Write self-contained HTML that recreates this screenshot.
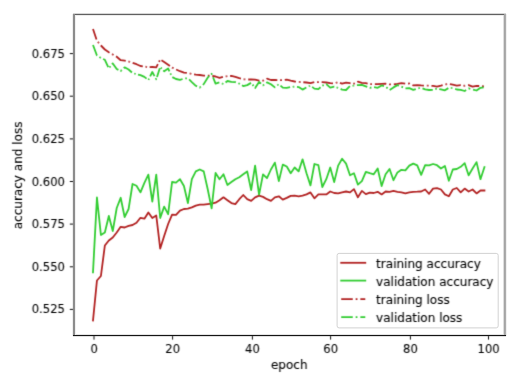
<!DOCTYPE html>
<html><head><meta charset="utf-8"><title>accuracy and loss</title>
<style>html,body{margin:0;padding:0;background:#fff;width:514px;height:376px;overflow:hidden} svg{display:block}</style>
</head><body>
<svg width="514" height="376" viewBox="0 0 514 376">
<defs>
<filter id="fl" x="0" y="0" width="514" height="376" filterUnits="userSpaceOnUse" color-interpolation-filters="sRGB"><feConvolveMatrix order="3" kernelMatrix="0.01440 0.09120 0.01440 0.09120 0.57760 0.09120 0.01440 0.09120 0.01440" divisor="1" edgeMode="none" preserveAlpha="false"/></filter>
<filter id="ft" x="0" y="0" width="514" height="376" filterUnits="userSpaceOnUse" color-interpolation-filters="sRGB"><feConvolveMatrix order="3" kernelMatrix="0.01800 0.06400 0.01800 0.14400 0.51200 0.14400 0.01800 0.06400 0.01800" divisor="1" edgeMode="none" preserveAlpha="false"/></filter>
</defs>
<rect width="514" height="376" fill="#fff"/>
<g fill="none" stroke-width="1.8" stroke-linejoin="round" filter="url(#fl)">
<polyline points="93.00,320.50 96.95,280.50 100.91,276.00 104.86,245.50 108.82,240.50 112.77,237.50 116.72,232.50 120.68,226.80 124.63,227.50 128.59,225.80 132.54,225.00 136.49,222.80 140.45,217.80 144.40,218.70 148.36,212.40 152.31,218.00 156.26,215.50 160.22,248.60 164.17,236.00 168.13,224.00 172.08,214.60 176.03,214.80 179.99,210.60 183.94,209.00 187.90,208.60 191.85,207.40 195.80,205.60 199.76,204.60 203.71,204.60 207.67,204.10 211.62,203.60 215.57,202.70 219.53,200.20 223.48,197.30 227.44,200.20 231.39,203.10 235.34,204.10 239.30,199.20 243.25,195.00 247.21,199.20 251.16,200.80 255.11,197.30 259.07,195.70 263.02,196.90 266.98,199.20 270.93,200.80 274.88,197.30 278.84,196.30 282.79,199.60 286.75,197.90 290.70,195.90 294.65,195.70 298.61,196.30 302.56,195.70 306.52,194.40 310.47,192.40 314.42,198.30 318.38,194.40 322.33,194.40 326.29,194.40 330.24,191.50 334.19,193.00 338.15,193.40 342.10,192.40 346.06,191.50 350.01,192.40 353.96,189.10 357.92,197.30 361.87,190.90 365.83,194.10 369.78,192.60 373.73,193.00 377.69,191.80 381.64,194.40 385.60,191.50 389.55,191.80 393.50,190.90 397.46,191.80 401.41,192.40 405.37,193.40 409.32,192.40 413.27,191.80 417.23,191.70 421.18,191.50 425.14,189.50 429.09,193.80 433.04,188.60 437.00,188.10 440.95,189.50 444.91,194.40 448.86,196.30 452.81,189.50 456.77,188.00 460.72,192.40 464.68,188.60 468.63,191.50 472.58,189.50 476.54,193.40 480.49,190.50 484.45,190.50" stroke="#b22222" stroke-linecap="square"/>
<polyline points="93.00,272.30 96.95,197.50 100.91,235.00 104.86,232.50 108.82,216.00 112.77,231.00 116.72,208.00 120.68,197.80 124.63,217.00 128.59,209.00 132.54,184.00 136.49,185.80 140.45,192.40 144.40,182.90 148.36,174.60 152.31,201.50 156.26,174.60 160.22,218.00 164.17,206.60 168.13,214.20 172.08,182.00 176.03,182.70 179.99,179.20 183.94,186.00 187.90,203.00 191.85,179.20 195.80,171.40 199.76,169.50 203.71,171.40 207.67,189.00 211.62,208.40 215.57,173.00 219.53,179.20 223.48,174.30 227.44,185.00 231.39,182.10 235.34,179.20 239.30,177.20 243.25,174.30 247.21,171.40 251.16,190.00 255.11,165.60 259.07,194.70 263.02,174.30 266.98,178.20 270.93,169.50 274.88,162.60 278.84,181.10 282.79,164.60 286.75,166.50 290.70,173.30 294.65,167.50 298.61,171.40 302.56,159.30 306.52,173.30 310.47,185.40 314.42,164.00 318.38,165.20 322.33,187.00 326.29,179.20 330.24,167.50 334.19,182.10 338.15,165.60 342.10,158.80 346.06,163.60 350.01,175.30 353.96,173.30 357.92,184.60 361.87,181.10 365.83,171.80 369.78,173.20 373.73,174.30 377.69,168.50 381.64,186.00 385.60,174.30 389.55,169.00 393.50,180.20 397.46,172.40 401.41,169.80 405.37,170.40 409.32,165.60 413.27,163.60 417.23,165.40 421.18,174.90 425.14,165.20 429.09,165.40 433.04,164.00 437.00,165.20 440.95,168.50 444.91,166.00 448.86,180.80 452.81,169.50 456.77,169.00 460.72,166.80 464.68,163.20 468.63,175.30 472.58,168.50 476.54,162.10 480.49,179.20 484.45,167.10" stroke="#32cd32" stroke-linecap="square"/>
<polyline points="93.00,29.00 96.95,40.80 98.40,42.52" stroke="#b22222" stroke-dasharray="11.060 2.765 1.732 2.765" stroke-dashoffset="0.000" stroke-linecap="butt"/>
<polyline points="98.40,42.52 100.91,45.50 104.86,49.50 108.82,52.30 112.75,54.59" stroke="#b22222" stroke-dasharray="11.419 2.855 1.788 2.855" stroke-dashoffset="15.168" stroke-linecap="butt"/>
<polyline points="112.75,54.59 112.77,54.60 116.72,56.80 120.68,60.20 124.63,60.60 128.59,61.50 129.30,61.73" stroke="#b22222" stroke-dasharray="11.194 2.798 1.753 2.798" stroke-dashoffset="14.869" stroke-linecap="butt"/>
<polyline points="129.30,61.73 132.54,62.80 136.49,64.20 140.45,66.00 144.40,66.50 146.30,66.88" stroke="#b22222" stroke-dasharray="10.788 2.697 1.689 2.697" stroke-dashoffset="14.330" stroke-linecap="butt"/>
<polyline points="146.30,66.88 148.36,67.30 152.31,67.00 156.26,67.40 160.22,59.50 164.17,62.00 168.13,64.80 172.08,67.60 172.75,67.91" stroke="#b22222" stroke-dasharray="10.255 2.564 1.606 2.564" stroke-dashoffset="13.621" stroke-linecap="butt"/>
<polyline points="172.75,67.91 176.03,69.40 179.99,71.20 183.94,72.60 187.90,73.00 190.50,73.66" stroke="#b22222" stroke-dasharray="11.353 2.838 1.778 2.838" stroke-dashoffset="15.080" stroke-linecap="butt"/>
<polyline points="190.50,73.66 191.85,74.00 195.80,74.60 199.76,75.00 203.71,75.60 207.67,75.70 211.62,75.70 215.57,76.50 219.53,77.90 223.48,76.70 226.50,76.32" stroke="#b22222" stroke-dasharray="11.070 2.768 1.733 2.768" stroke-dashoffset="14.704" stroke-linecap="butt"/>
<polyline points="226.50,76.32 227.44,76.20 231.39,75.90 235.34,76.90 239.30,78.20 243.25,79.20 244.50,79.29" stroke="#b22222" stroke-dasharray="11.155 2.789 1.747 2.789" stroke-dashoffset="14.817" stroke-linecap="butt"/>
<polyline points="244.50,79.29 247.21,79.50 251.16,79.50 255.11,79.70 259.07,80.70 263.02,80.70 263.20,80.61" stroke="#b22222" stroke-dasharray="11.384 2.846 1.782 2.846" stroke-dashoffset="15.122" stroke-linecap="butt"/>
<polyline points="263.20,80.61 266.98,78.70 270.93,80.00 274.88,80.00 278.84,80.20 281.00,80.20" stroke="#b22222" stroke-dasharray="11.149 2.787 1.746 2.787" stroke-dashoffset="14.809" stroke-linecap="butt"/>
<polyline points="281.00,80.20 282.79,80.20 286.75,79.70 290.70,80.70 294.65,81.50 298.61,81.90 299.70,81.98" stroke="#b22222" stroke-dasharray="11.445 2.861 1.792 2.861" stroke-dashoffset="15.202" stroke-linecap="butt"/>
<polyline points="299.70,81.98 302.56,82.20 306.52,82.50 310.47,83.20 314.42,82.20 317.90,82.20" stroke="#b22222" stroke-dasharray="11.111 2.778 1.740 2.778" stroke-dashoffset="14.758" stroke-linecap="butt"/>
<polyline points="317.90,82.20 318.38,82.20 322.33,82.20 326.29,82.50 330.24,83.20 334.19,83.50 336.60,82.71" stroke="#b22222" stroke-dasharray="11.416 2.854 1.787 2.854" stroke-dashoffset="15.163" stroke-linecap="butt"/>
<polyline points="336.60,82.71 338.15,82.20 342.10,83.70 346.06,82.70 350.01,83.20 353.96,83.70 354.10,83.63" stroke="#b22222" stroke-dasharray="10.902 2.726 1.707 2.726" stroke-dashoffset="14.481" stroke-linecap="butt"/>
<polyline points="354.10,83.63 357.92,81.70 361.87,82.80 365.83,83.20 369.78,84.10 371.10,84.10" stroke="#b22222" stroke-dasharray="10.704 2.676 1.676 2.676" stroke-dashoffset="14.218" stroke-linecap="butt"/>
<polyline points="371.10,84.10 373.73,84.10 377.69,84.10 381.64,83.90 385.60,83.70 389.55,84.40 390.00,84.40" stroke="#b22222" stroke-dasharray="11.452 2.863 1.793 2.863" stroke-dashoffset="15.212" stroke-linecap="butt"/>
<polyline points="390.00,84.40 393.50,84.40 397.46,83.90 401.41,83.20 405.37,83.70 409.00,83.52" stroke="#b22222" stroke-dasharray="11.547 2.887 1.808 2.887" stroke-dashoffset="15.338" stroke-linecap="butt"/>
<polyline points="409.00,83.52 409.32,83.50 413.27,85.40 417.23,85.10 421.18,85.40 425.14,85.60 427.70,85.60" stroke="#b22222" stroke-dasharray="11.567 2.892 1.811 2.892" stroke-dashoffset="15.364" stroke-linecap="butt"/>
<polyline points="427.70,85.60 429.09,85.60 433.04,85.90 437.00,86.60 440.95,85.60 444.91,84.40 446.30,84.26" stroke="#b22222" stroke-dasharray="11.459 2.865 1.794 2.865" stroke-dashoffset="15.221" stroke-linecap="butt"/>
<polyline points="446.30,84.26 448.86,84.00 452.81,84.70 456.77,85.60 460.72,85.10 464.30,85.73" stroke="#b22222" stroke-dasharray="11.024 2.756 1.726 2.756" stroke-dashoffset="14.644" stroke-linecap="butt"/>
<polyline points="464.30,85.73 464.68,85.80 468.63,85.10 472.58,86.60 476.54,85.80 480.49,86.10 484.45,86.40" stroke="#b22222" stroke-dasharray="11.560 2.890 1.810 2.890" stroke-dashoffset="15.355" stroke-linecap="butt"/>
<polyline points="93.00,45.00 96.95,55.50 100.20,57.55" stroke="#32cd32" stroke-dasharray="11.338 2.835 1.775 2.835" stroke-dashoffset="0.000" stroke-linecap="butt"/>
<polyline points="100.20,57.55 100.91,58.00 104.86,59.80 108.82,68.30 112.77,63.40 116.72,69.00 120.68,71.00 121.20,70.51" stroke="#32cd32" stroke-dasharray="9.916 2.479 1.553 2.479" stroke-dashoffset="13.172" stroke-linecap="butt"/>
<polyline points="121.20,70.51 124.63,67.30 128.59,69.50 132.54,73.00 135.00,73.75" stroke="#32cd32" stroke-dasharray="10.308 2.577 1.614 2.577" stroke-dashoffset="13.692" stroke-linecap="butt"/>
<polyline points="135.00,73.75 136.49,74.20 140.45,75.20 144.40,76.90 148.36,80.00 152.31,72.00 156.00,78.81" stroke="#32cd32" stroke-dasharray="9.550 2.387 1.495 2.387" stroke-dashoffset="12.685" stroke-linecap="butt"/>
<polyline points="156.00,78.81 156.26,79.30 160.22,66.90 164.17,71.20 168.13,68.50 170.70,74.03" stroke="#32cd32" stroke-dasharray="9.146 2.286 1.432 2.286" stroke-dashoffset="12.148" stroke-linecap="butt"/>
<polyline points="170.70,74.03 172.08,77.00 176.03,79.00 179.99,79.80 183.94,78.60 186.10,78.38" stroke="#32cd32" stroke-dasharray="10.889 2.722 1.705 2.722" stroke-dashoffset="14.463" stroke-linecap="butt"/>
<polyline points="186.10,78.38 187.90,78.20 191.85,82.10 195.80,85.80 199.76,87.60 200.20,87.21" stroke="#32cd32" stroke-dasharray="10.690 2.673 1.674 2.673" stroke-dashoffset="14.199" stroke-linecap="butt"/>
<polyline points="200.20,87.21 203.71,84.10 207.67,77.70 211.62,73.80 215.57,83.60 219.53,82.40 222.60,83.72" stroke="#32cd32" stroke-dasharray="10.809 2.702 1.692 2.702" stroke-dashoffset="14.357" stroke-linecap="butt"/>
<polyline points="222.60,83.72 223.48,84.10 227.44,81.00 231.39,81.90 235.34,82.10 239.20,83.56" stroke="#32cd32" stroke-dasharray="10.940 2.735 1.713 2.735" stroke-dashoffset="14.531" stroke-linecap="butt"/>
<polyline points="239.20,83.56 239.30,83.60 243.25,86.10 247.21,85.10 251.16,82.80 255.11,88.00 259.07,81.90 263.02,85.40 263.50,85.04" stroke="#32cd32" stroke-dasharray="9.996 2.499 1.565 2.499" stroke-dashoffset="13.278" stroke-linecap="butt"/>
<polyline points="263.50,85.04 266.98,82.40 270.93,84.30 274.88,87.40 277.90,84.88" stroke="#32cd32" stroke-dasharray="10.686 2.672 1.673 2.672" stroke-dashoffset="14.195" stroke-linecap="butt"/>
<polyline points="277.90,84.88 278.84,84.10 282.79,87.60 286.75,87.80 290.70,87.10 293.50,86.75" stroke="#32cd32" stroke-dasharray="10.443 2.611 1.635 2.611" stroke-dashoffset="13.871" stroke-linecap="butt"/>
<polyline points="293.50,86.75 294.65,86.60 298.61,87.10 302.56,89.60 306.52,87.40 309.50,86.04" stroke="#32cd32" stroke-dasharray="10.643 2.661 1.666 2.661" stroke-dashoffset="14.136" stroke-linecap="butt"/>
<polyline points="309.50,86.04 310.47,85.60 314.42,88.60 318.38,89.10 322.33,85.60 326.29,84.10 330.24,87.60 334.19,86.60 337.30,87.54" stroke="#32cd32" stroke-dasharray="9.697 2.424 1.518 2.424" stroke-dashoffset="12.881" stroke-linecap="butt"/>
<polyline points="337.30,87.54 338.15,87.80 342.10,89.60 346.06,90.00 350.01,86.10 353.40,85.67" stroke="#32cd32" stroke-dasharray="10.972 2.743 1.718 2.743" stroke-dashoffset="14.574" stroke-linecap="butt"/>
<polyline points="353.40,85.67 353.96,85.60 357.92,85.10 361.87,84.80 365.83,86.30 369.78,87.80 373.73,87.10 377.69,87.80 381.64,85.40 385.60,86.60 389.55,90.00 393.50,87.40 397.46,85.10 401.41,86.60 405.37,88.40 409.32,88.20 413.27,89.80 417.23,88.60 419.20,88.20" stroke="#32cd32" stroke-dasharray="10.749 2.687 1.683 2.687" stroke-dashoffset="14.278" stroke-linecap="butt"/>
<polyline points="419.20,88.20 421.18,87.80 425.14,89.40 429.09,90.00 433.04,89.80 436.10,88.87" stroke="#32cd32" stroke-dasharray="10.527 2.632 1.648 2.632" stroke-dashoffset="13.984" stroke-linecap="butt"/>
<polyline points="436.10,88.87 437.00,88.60 440.95,89.40 444.91,90.30 448.86,87.80 451.50,88.00" stroke="#32cd32" stroke-dasharray="9.872 2.468 1.546 2.468" stroke-dashoffset="13.113" stroke-linecap="butt"/>
<polyline points="451.50,88.00 452.81,88.10 456.77,89.50 460.72,89.80 464.68,91.00 468.63,88.40 472.58,89.40 476.54,90.50 480.49,87.80 484.45,87.40" stroke="#32cd32" stroke-dasharray="11.560 2.890 1.810 2.890" stroke-dashoffset="15.355" stroke-linecap="butt"/>
</g>
<g shape-rendering="crispEdges">
<rect x="73" y="13" width="433" height="1" fill="#d6d6d6"/>
<rect x="73" y="14" width="433" height="1" fill="#606060"/>
<rect x="73" y="15" width="433" height="1" fill="#ececec"/>
<rect x="73" y="334" width="433" height="1" fill="#e4e4e4"/>
<rect x="73" y="335" width="433" height="1" fill="#141414"/>
<rect x="73" y="336" width="433" height="1" fill="#e0e0e0"/>
<rect x="72" y="14" width="1" height="322" fill="#eeeeee"/>
<rect x="73" y="14" width="1" height="321" fill="#8c8c8c"/>
<rect x="74" y="14" width="1" height="321" fill="#8c8c8c"/>
<rect x="75" y="15" width="1" height="320" fill="#f0f0f0"/>
<rect x="503" y="15" width="1" height="320" fill="#dedede"/>
<rect x="504" y="14" width="1" height="321" fill="#a4a4a4"/>
<rect x="505" y="14" width="1" height="321" fill="#acacac"/>
<rect x="506" y="14" width="1" height="322" fill="#f0f0f0"/>
</g>
<g stroke="#000" stroke-width="0.96" fill="none" filter="url(#fl)">
<line x1="69.8" y1="53.6" x2="73" y2="53.6"/>
<line x1="69.8" y1="96.2" x2="73" y2="96.2"/>
<line x1="69.8" y1="138.9" x2="73" y2="138.9"/>
<line x1="69.8" y1="181.5" x2="73" y2="181.5"/>
<line x1="69.8" y1="224.1" x2="73" y2="224.1"/>
<line x1="69.8" y1="266.8" x2="73" y2="266.8"/>
<line x1="69.8" y1="309.4" x2="73" y2="309.4"/>
<line x1="94.0" y1="336" x2="94.0" y2="339.6"/>
<line x1="172.6" y1="336" x2="172.6" y2="339.6"/>
<line x1="252.4" y1="336" x2="252.4" y2="339.6"/>
<line x1="330.6" y1="336" x2="330.6" y2="339.6"/>
<line x1="410.4" y1="336" x2="410.4" y2="339.6"/>
<line x1="488.5" y1="336" x2="488.5" y2="339.6"/>
</g>
<g font-family="'DejaVu Sans', 'Liberation Sans', sans-serif" font-size="12.04" fill="#000" stroke="#000" stroke-width="0.1" filter="url(#ft)">
<text x="64.9" y="57.60" font-size="11.6" stroke-width="0.08" text-anchor="end">0.675</text>
<text x="64.9" y="100.20" font-size="11.6" stroke-width="0.08" text-anchor="end">0.650</text>
<text x="64.9" y="142.90" font-size="11.6" stroke-width="0.08" text-anchor="end">0.625</text>
<text x="64.9" y="185.50" font-size="11.6" stroke-width="0.08" text-anchor="end">0.600</text>
<text x="64.9" y="228.10" font-size="11.6" stroke-width="0.08" text-anchor="end">0.575</text>
<text x="64.9" y="270.80" font-size="11.6" stroke-width="0.08" text-anchor="end">0.550</text>
<text x="64.9" y="313.40" font-size="11.6" stroke-width="0.08" text-anchor="end">0.525</text>
<text x="94.10" y="352.9" font-size="11.6" stroke-width="0.08" text-anchor="middle">0</text>
<text x="172.70" y="352.9" font-size="11.6" stroke-width="0.08" text-anchor="middle">20</text>
<text x="252.50" y="352.9" font-size="11.6" stroke-width="0.08" text-anchor="middle">40</text>
<text x="330.70" y="352.9" font-size="11.6" stroke-width="0.08" text-anchor="middle">60</text>
<text x="410.50" y="352.9" font-size="11.6" stroke-width="0.08" text-anchor="middle">80</text>
<text x="488.60" y="352.9" font-size="11.6" stroke-width="0.08" text-anchor="middle">100</text>
<text transform="translate(289.3,368.6) scale(1,0.95)" text-anchor="middle">epoch</text>
<text transform="translate(21.7,175.4) rotate(-90) scale(1,0.95)" text-anchor="middle">accuracy and loss</text>
</g>
<rect x="337.1" y="253.4" width="161.1" height="74.5" rx="2" ry="2" fill="#fff" fill-opacity="0.8" stroke="#d2d2d2" stroke-width="1.0"/>
<g filter="url(#fl)">
<line x1="341.2" y1="262.8" x2="365.3" y2="262.8" stroke="#b22222" stroke-width="1.8" stroke-linecap="square"/>
<line x1="341.2" y1="280.6" x2="365.3" y2="280.6" stroke="#32cd32" stroke-width="1.8" stroke-linecap="square"/>
<line x1="341.2" y1="299.1" x2="365.3" y2="299.1" stroke="#b22222" stroke-width="1.8" stroke-linecap="butt" stroke-dasharray="11.56 2.89 1.81 2.89"/>
<line x1="341.2" y1="317.2" x2="365.3" y2="317.2" stroke="#32cd32" stroke-width="1.8" stroke-linecap="butt" stroke-dasharray="11.56 2.89 1.81 2.89"/>
</g>
<g font-family="'DejaVu Sans', 'Liberation Sans', sans-serif" font-size="12.04" fill="#000" stroke="#000" stroke-width="0.1" filter="url(#ft)">
<text x="376.1" y="267.9">training accuracy</text>
<text x="376.1" y="286.0">validation accuracy</text>
<text x="376.1" y="304.2">training loss</text>
<text x="376.1" y="322.4">validation loss</text>
</g>
</svg>
</body></html>
